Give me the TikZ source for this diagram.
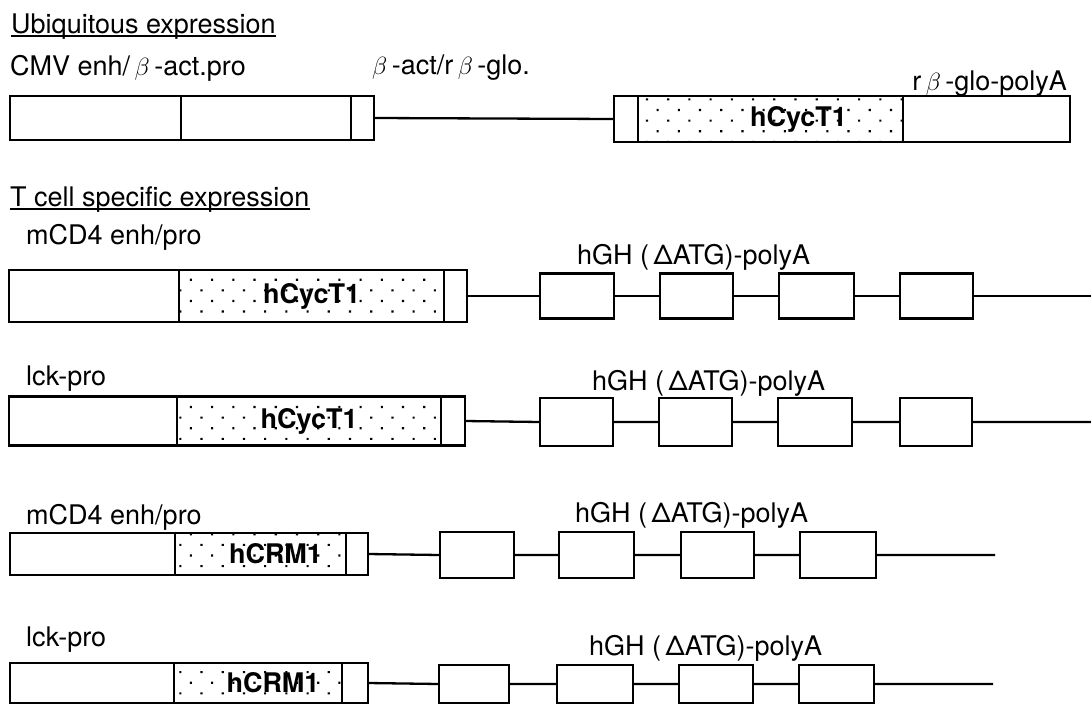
\documentclass[tikz,border=0pt]{standalone}
\usepackage{fontspec}
\setmainfont{TeX Gyre Heros}
\usepackage{tikz}
\usetikzlibrary{positioning,patterns.meta}

\begin{document}
\begin{tikzpicture}[x=1pt,y=-1pt,
  font=\fontsize{27}{31}\selectfont,
  seg/.style={draw,line width=2.6pt,inner sep=0pt,outer sep=0pt,anchor=west},
  ins/.style={seg,pattern={Dots[radius=1.5pt,distance=15pt,angle=45]},
              font=\fontsize{27}{31}\selectfont\bfseries},
  lbl/.style={inner sep=0pt,anchor=west},
  dna/.style={line width=2.3pt},
  uline/.style={line width=2pt}
]
\fill[white] (0,0) rectangle (1091,704);
\useasboundingbox (0,0) rectangle (1091,704);

% ubiquitous
\node[lbl] (ubq) at (11,27) {Ubiquitous expression};
\draw[uline] ([yshift=-2.5pt]ubq.base west) -- ([yshift=-2.5pt]ubq.base east);
\node[lbl] (cmvlbl) at (10,68) {CMV enh/\,$\beta$\,-act.pro};
\node[lbl] (actlbl) at (372,68) {$\beta$\,-act/r\,$\beta$\,-glo.};
\node[lbl,anchor=east] (glolbl) at (1067,84) {r\,$\beta$\,-glo-polyA};
\node[seg,minimum width=171pt,minimum height=44pt] (cmv) at (10,118) {};
\node[seg,minimum width=170pt,minimum height=44pt] (bact) at (cmv.east) {};
\node[seg,minimum width=23pt,minimum height=44pt] (ex1) at (bact.east) {};
\node[seg,minimum width=24pt,minimum height=46pt] (ex2) at (614,119) {};
\node[ins,minimum width=265pt,minimum height=46pt] (cyc1) at (ex2.east) {\hspace*{56pt}hCycT1};
\node[seg,minimum width=167pt,minimum height=46pt] (glo) at (cyc1.east) {};
\draw[dna] (ex1.east) -- (ex2.west);

% T cell specific
\node[lbl] (tcell) at (10,200) {T cell specific expression};
\draw[uline] ([yshift=-2.5pt]tcell.base west) -- ([yshift=-2.5pt]tcell.base east);

% mCD4 / hCycT1
\node[lbl] (cdlbl2) at (26,237) {mCD4 enh/pro};
\node[lbl] (ghlbl2) at (577,257) {hGH (\,ΔATG)-polyA};
\node[seg,minimum width=170pt,minimum height=52pt] (cd2) at (9,296) {};
\node[ins,minimum width=265pt,minimum height=52pt] (cyc2) at (cd2.east) {hCycT1};
\node[seg,minimum width=23pt,minimum height=52pt] (sm2) at (cyc2.east) {};
\node[seg,minimum width=74pt,minimum height=45pt] (gh2a) at (540,296) {};
\node[seg,minimum width=73pt,minimum height=45pt] (gh2b) at (660,296) {};
\node[seg,minimum width=75pt,minimum height=45pt] (gh2c) at (779,296) {};
\node[seg,minimum width=73pt,minimum height=45pt] (gh2d) at (900,296) {};
\coordinate (end2) at (1091,296);
\draw[dna] (sm2.east) -- (gh2a.west) (gh2a.east) -- (gh2b.west)
  (gh2b.east) -- (gh2c.west) (gh2c.east) -- (gh2d.west) (gh2d.east) -- (end2);

% lck / hCycT1
\node[lbl] (lcklbl3) at (26,379) {lck-pro};
\node[lbl] (ghlbl3) at (592,383) {hGH (\,ΔATG)-polyA};
\node[seg,minimum width=168pt,minimum height=49pt] (lck3) at (9,421) {};
\node[ins,minimum width=264pt,minimum height=49pt] (cyc3) at (lck3.east) {hCycT1};
\node[seg,minimum width=24pt,minimum height=49pt] (sm3) at (cyc3.east) {};
\node[seg,minimum width=73pt,minimum height=48pt] (gh3a) at (540,422) {};
\node[seg,minimum width=73pt,minimum height=48pt] (gh3b) at (659,422) {};
\node[seg,minimum width=74pt,minimum height=48pt] (gh3c) at (778,422) {};
\node[seg,minimum width=72pt,minimum height=48pt] (gh3d) at (900,422) {};
\coordinate (end3) at (1091,422);
\draw[dna] (sm3.east) -- (gh3a.west) (gh3a.east) -- (gh3b.west)
  (gh3b.east) -- (gh3c.west) (gh3c.east) -- (gh3d.west) (gh3d.east) -- (end3);

% mCD4 / hCRM1
\node[lbl] (cdlbl4) at (26,517) {mCD4 enh/pro};
\node[lbl] (ghlbl4) at (575,515) {hGH (\,ΔATG)-polyA};
\node[seg,minimum width=165pt,minimum height=42pt] (cd4) at (10,554) {};
\node[ins,minimum width=171pt,minimum height=42pt] (crm4) at (cd4.east) {\hspace*{30pt}hCRM1};
\node[seg,minimum width=22pt,minimum height=42pt] (sm4) at (crm4.east) {};
\node[seg,minimum width=74pt,minimum height=46pt] (gh4a) at (440,555) {};
\node[seg,minimum width=75pt,minimum height=46pt] (gh4b) at (559,555) {};
\node[seg,minimum width=73pt,minimum height=46pt] (gh4c) at (681,555) {};
\node[seg,minimum width=76pt,minimum height=46pt] (gh4d) at (800,555) {};
\coordinate (end4) at (995,555);
\draw[dna] (sm4.east) -- (gh4a.west) (gh4a.east) -- (gh4b.west)
  (gh4b.east) -- (gh4c.west) (gh4c.east) -- (gh4d.west) (gh4d.east) -- (end4);

% lck / hCRM1
\node[lbl] (lcklbl5) at (26,640) {lck-pro};
\node[lbl] (ghlbl5) at (589,648) {hGH (\,ΔATG)-polyA};
\node[seg,minimum width=164pt,minimum height=40pt] (lck5) at (10,683) {};
\node[ins,minimum width=168pt,minimum height=40pt] (crm5) at (lck5.east) {\hspace*{30pt}hCRM1};
\node[seg,minimum width=26pt,minimum height=40pt] (sm5) at (crm5.east) {};
\node[seg,minimum width=70pt,minimum height=38pt] (gh5a) at (439,684) {};
\node[seg,minimum width=76pt,minimum height=38pt] (gh5b) at (557,684) {};
\node[seg,minimum width=74pt,minimum height=38pt] (gh5c) at (679,684) {};
\node[seg,minimum width=75pt,minimum height=38pt] (gh5d) at (799,684) {};
\coordinate (end5) at (993,684);
\draw[dna] (sm5.east) -- (gh5a.west) (gh5a.east) -- (gh5b.west)
  (gh5b.east) -- (gh5c.west) (gh5c.east) -- (gh5d.west) (gh5d.east) -- (end5);
\end{tikzpicture}
\end{document}
